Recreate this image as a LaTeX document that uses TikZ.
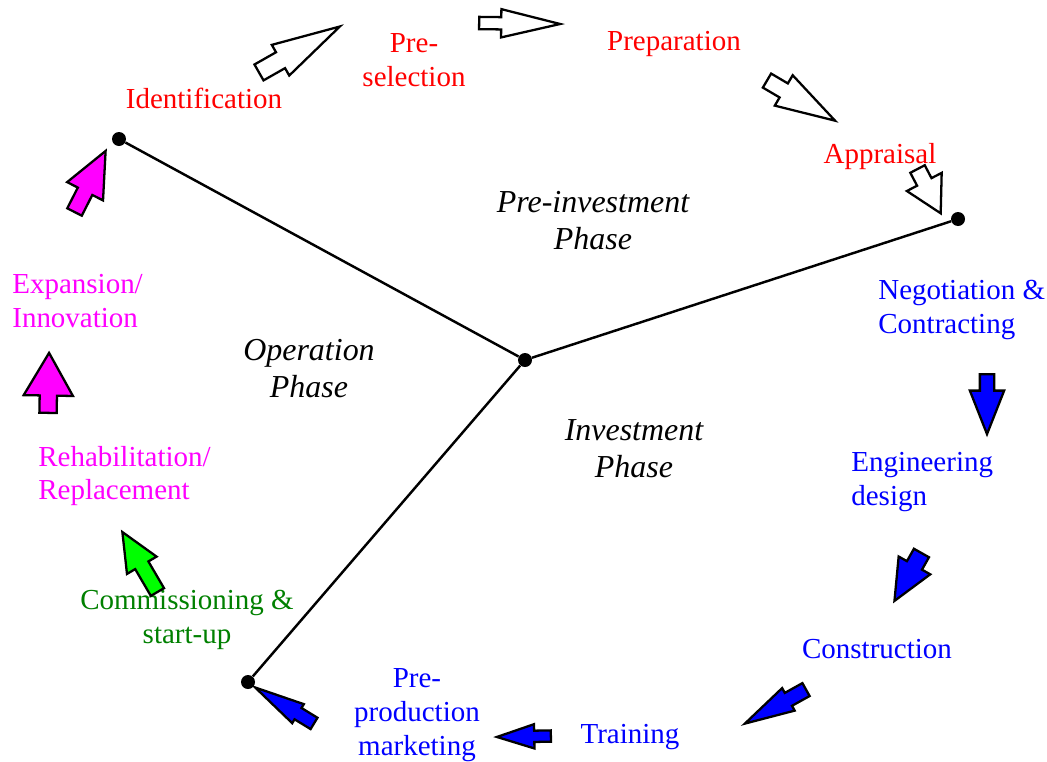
\documentclass[tikz,border=0pt]{standalone}
\usepackage{fontspec}
\setmainfont{Liberation Serif}
\usetikzlibrary{shapes.arrows,positioning}

\definecolor{textgreen}{RGB}{0,128,0}
\definecolor{brightmagenta}{RGB}{255,0,255}
\definecolor{brightgreen}{RGB}{0,255,0}

\begin{document}
\begin{tikzpicture}[
    x=0.02cm, y=-0.02cm,
    lbl/.style={align=center,inner sep=0pt,font=\fontsize{16.5}{19.2}\selectfont},
    phase/.style={lbl,font=\fontsize{18.2}{21}\selectfont\itshape},
    pre/.style={lbl,text=red},
    inv/.style={lbl,text=blue},
    ops/.style={lbl,text=brightmagenta},
    dot/.style={circle,fill=black,inner sep=0pt,minimum size=0.28cm},
    spoke/.style={line width=1.4pt},
    barr/.style={single arrow,draw=black,line width=1.3pt,inner xsep=0pt,anchor=tail,line join=miter},
    openarr/.style={barr,fill=white},
    bluearr/.style={barr,fill=blue},
  ]
    \useasboundingbox (0,0) rectangle (1047,761);

    % phases and the three spokes
    \node[dot] (hub) at (525,360) {};
    \node[dot] (pdot) at (119,139) {};
    \node[dot] (idot) at (958,219) {};
    \node[dot] (odot) at (248,682) {};
    \draw[spoke] (hub) -- (pdot);
    \draw[spoke] (hub) -- (idot);
    \draw[spoke] (hub) -- (odot);

    \node[phase] (preinv) at (593,221) {Pre-investment\\Phase};
    \node[phase] (invest) at (634,449) {Investment\\Phase};
    \node[phase] (oper) at (309,369) {Operation\\Phase};

    % pre-investment steps
    \node[pre] (ident) at (204,98) {Identification};
    \node[pre] (presel) at (414,60) {Pre-\\selection};
    \node[pre] (prep) at (674,44) {Preparation};
    \node[pre] (appr) at (880,157) {Appraisal};

    % investment steps
    \node[inv,align=left,anchor=west] (nego) at (878,310) {Negotiation \&\\Contracting};
    \node[inv,align=left,anchor=west] (eng) at (851,482) {Engineering\\design};
    \node[inv] (constr) at (877,649) {Construction};
    \node[inv] (train) at (630,737) {Training};
    \node[inv] (preprod) at (417,715) {Pre-\\production\\marketing};

    % operation steps
    \node[lbl,text=textgreen] (comm) at (187,620) {Commissioning \&\\start-up};
    \node[ops,align=left,anchor=west] (rehab) at (38,476) {Rehabilitation/\\Replacement};
    \node[ops,align=left,anchor=west] (expan) at (12,301) {Expansion/\\Innovation};

    % block arrows
    \node[openarr,rotate=29.6,minimum height=1.86cm,inner ysep=0.16cm,single arrow head extend=0.17cm,single arrow tip angle=29] (a1) at (258,73) {};
    \node[openarr,rotate=-0.7,minimum height=1.62cm,inner ysep=0.10cm,single arrow head extend=0.16cm,single arrow tip angle=27] (a2) at (478,23) {};
    \node[openarr,rotate=-30.5,minimum height=1.58cm,inner ysep=0.14cm,single arrow head extend=0.19cm,single arrow tip angle=33] (a3) at (766,80) {};
    \node[openarr,rotate=-62.4,minimum height=1.0cm,inner ysep=0.14cm,single arrow head extend=0.23cm,single arrow tip angle=58] (a4) at (917,168) {};
    \node[bluearr,rotate=-90,minimum height=1.2cm,inner ysep=0.12cm,single arrow head extend=0.2cm,single arrow tip angle=43] (a5) at (987,373) {};
    \node[bluearr,rotate=-119.4,minimum height=1.1cm,inner ysep=0.15cm,single arrow head extend=0.19cm,single arrow tip angle=48] (a6) at (922,552) {};
    \node[bluearr,rotate=-150.9,minimum height=1.4cm,inner ysep=0.125cm,single arrow head extend=0.11cm,single arrow tip angle=29] (a7) at (807,689) {};
    \node[bluearr,rotate=-179,minimum height=1.08cm,inner ysep=0.09cm,single arrow head extend=0.13cm,single arrow tip angle=36] (a8) at (552,736) {};
    \node[bluearr,rotate=148.6,minimum height=1.38cm,inner ysep=0.11cm,single arrow head extend=0.09cm,single arrow tip angle=25] (a9) at (315,724) {};
    \node[barr,fill=brightgreen,rotate=120.3,minimum height=1.39cm,inner ysep=0.13cm,single arrow head extend=0.19cm,single arrow tip angle=48] (a10) at (158,593) {};
    \node[barr,fill=brightmagenta,rotate=89,minimum height=1.2cm,inner ysep=0.15cm,single arrow head extend=0.32cm,single arrow tip angle=60] (a11) at (48,414) {};
    \node[barr,fill=brightmagenta,rotate=63,minimum height=1.37cm,inner ysep=0.14cm,single arrow head extend=0.24cm,single arrow tip angle=48] (a12) at (74,213) {};
\end{tikzpicture}
\end{document}
